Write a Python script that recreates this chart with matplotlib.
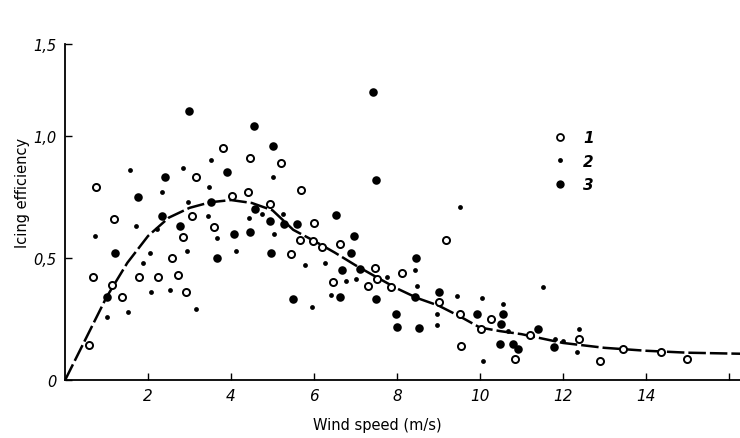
import numpy as np
from matplotlib import pyplot as plt
from matplotlib.lines import Line2D

# icing efficiency vs wind speed, three groups of measurements
open_x = [0.75, 1.19, 0.67, 1.79, 2.23, 1.13, 1.37, 0.58,
          3.80, 4.46, 3.16, 4.02, 4.42, 4.95, 3.05, 3.58, 2.84, 2.57, 2.71, 2.92,
          5.20, 5.68, 6.01, 5.66, 5.98, 6.19, 6.63, 5.45, 7.47, 7.51, 6.47, 7.31,
          9.19, 8.11, 7.86, 9.02, 9.52, 10.02, 9.54,
          10.27, 10.85, 11.20, 12.38, 12.89, 13.46, 14.36, 15.00]
open_y = [0.79, 0.66, 0.42, 0.42, 0.42, 0.39, 0.34, 0.145,
          0.95, 0.91, 0.83, 0.755, 0.77, 0.72, 0.67, 0.625, 0.585, 0.50, 0.43, 0.36,
          0.89, 0.78, 0.645, 0.575, 0.57, 0.545, 0.555, 0.515, 0.46, 0.415, 0.40, 0.387,
          0.575, 0.44, 0.38, 0.32, 0.27, 0.21, 0.14,
          0.25, 0.087, 0.185, 0.167, 0.076, 0.126, 0.116, 0.086]

small_x = [1.57, 2.34, 1.70, 2.21, 0.71, 2.05, 1.88, 2.06, 1.01, 1.52, 2.54,
           3.51, 2.85, 3.48, 2.97, 4.44, 4.75, 3.45, 3.67, 2.93, 4.11, 3.16,
           5.02, 5.26, 5.04, 6.27, 5.78, 7.02, 6.78, 6.40, 5.95,
           9.53, 7.75, 8.43, 8.48, 9.44, 10.05, 8.96, 8.96, 10.08,
           11.51, 10.56, 10.67, 11.81, 12.01, 12.39, 12.33]
small_y = [0.86, 0.77, 0.63, 0.62, 0.59, 0.52, 0.48, 0.36, 0.26, 0.28, 0.37,
           0.90, 0.87, 0.79, 0.73, 0.665, 0.68, 0.67, 0.58, 0.53, 0.53, 0.29,
           0.83, 0.68, 0.60, 0.48, 0.47, 0.415, 0.405, 0.347, 0.30,
           0.71, 0.42, 0.45, 0.385, 0.343, 0.336, 0.27, 0.225, 0.08,
           0.38, 0.31, 0.20, 0.17, 0.16, 0.21, 0.115]

big_x = [2.40, 1.76, 2.34, 1.21, 1.00,
         2.99, 4.56, 5.00, 3.90, 3.52, 4.58, 4.95, 2.76, 4.07, 4.45, 3.65, 4.96,
         7.43, 7.49, 5.28, 5.60, 6.53, 6.97, 6.88, 6.67, 7.12, 5.49, 6.62, 7.49,
         8.47, 9.01, 8.44, 7.97, 9.94, 7.99, 8.53,
         10.55, 10.51, 10.48, 10.80, 10.93, 11.79, 11.40]
big_y = [0.83, 0.75, 0.67, 0.52, 0.34,
         1.10, 1.04, 0.96, 0.85, 0.73, 0.70, 0.65, 0.63, 0.60, 0.605, 0.50, 0.52,
         1.18, 0.82, 0.64, 0.64, 0.675, 0.59, 0.52, 0.45, 0.455, 0.333, 0.34, 0.333,
         0.50, 0.36, 0.34, 0.27, 0.27, 0.217, 0.215,
         0.27, 0.228, 0.146, 0.146, 0.129, 0.135, 0.21]

# fitted curve
curve_x = [0, 0.5, 1.0, 1.5, 2.0, 2.5, 3.0, 3.5, 4.0, 4.5, 5.0, 5.5, 6.0, 6.5,
           7.0, 7.5, 8.0, 8.5, 9.0, 9.5, 10.0, 10.5, 11.0, 11.5, 12.0, 13.0,
           14.0, 15.0, 16.5]
curve_y = [0, 0.17, 0.34, 0.48, 0.59, 0.665, 0.705, 0.728, 0.737, 0.725, 0.695,
           0.615, 0.57, 0.522, 0.47, 0.422, 0.375, 0.335, 0.305, 0.262, 0.215,
           0.2, 0.188, 0.17, 0.152, 0.132, 0.12, 0.112, 0.107]

x_ticks = [2, 4, 6, 8, 10, 12, 14, 16]
x_tick_labels = ['2', '4', '6', '8', '10', '12', '14', '']
y_top = 1.375
y_ticks = [0, 0.5, 1.0, y_top]
y_tick_labels = ['0', '0,5', '1,0', '1,5']


def main():
    fig = plt.figure(figsize=(7.4, 4.39), dpi=100)
    ax = fig.add_axes([0.088, 0.132, 0.912, 0.765])

    ax.plot(curve_x, curve_y, color='black', lw=1.8,
            linestyle=(0, (7, 1.6)), zorder=2)

    ax.scatter(open_x, open_y, s=26, facecolors='white', edgecolors='black',
               linewidths=1.4, zorder=3)
    ax.scatter(small_x, small_y, s=12, color='black', linewidths=0, zorder=3)
    ax.scatter(big_x, big_y, s=38, color='black', linewidths=0, zorder=3)

    ax.set_xlim(0, 16.27)
    ax.set_ylim(0, y_top)

    for side in ['top', 'right']:
        ax.spines[side].set_visible(False)
    for side in ['left', 'bottom']:
        ax.spines[side].set_linewidth(1.3)

    ax.set_xticks(x_ticks)
    ax.set_xticklabels(x_tick_labels, fontsize=11, fontstyle='italic')
    ax.set_yticks(y_ticks)
    ax.set_yticklabels(y_tick_labels, fontsize=10.5, fontstyle='italic')
    ax.tick_params(direction='in', length=5, width=1.0, pad=6)

    ax.set_xlabel('Wind speed (m/s)', fontsize=10.5)
    ax.set_ylabel('Icing efficiency', fontsize=10.5)
    ax.xaxis.set_label_coords(0.462, -0.11)
    ax.yaxis.set_label_coords(-0.052, 0.56)

    legend_elements = [
        Line2D([0], [0], marker='o', ls='none', markersize=5, markerfacecolor='white',
               markeredgecolor='black', markeredgewidth=1.3, label='1'),
        Line2D([0], [0], marker='o', ls='none', markersize=3.5, color='black',
               markeredgewidth=0, label='2'),
        Line2D([0], [0], marker='o', ls='none', markersize=6, color='black',
               markeredgewidth=0, label='3'),
    ]
    ax.legend(handles=legend_elements, loc='upper left', bbox_to_anchor=(0.702, 0.785),
              frameon=False, handlelength=1.0, handletextpad=1.0, labelspacing=0.55,
              prop={'style': 'italic', 'weight': 'bold', 'size': 11})

    fig.savefig('out.png', dpi=100)


if __name__ == '__main__':
    main()
